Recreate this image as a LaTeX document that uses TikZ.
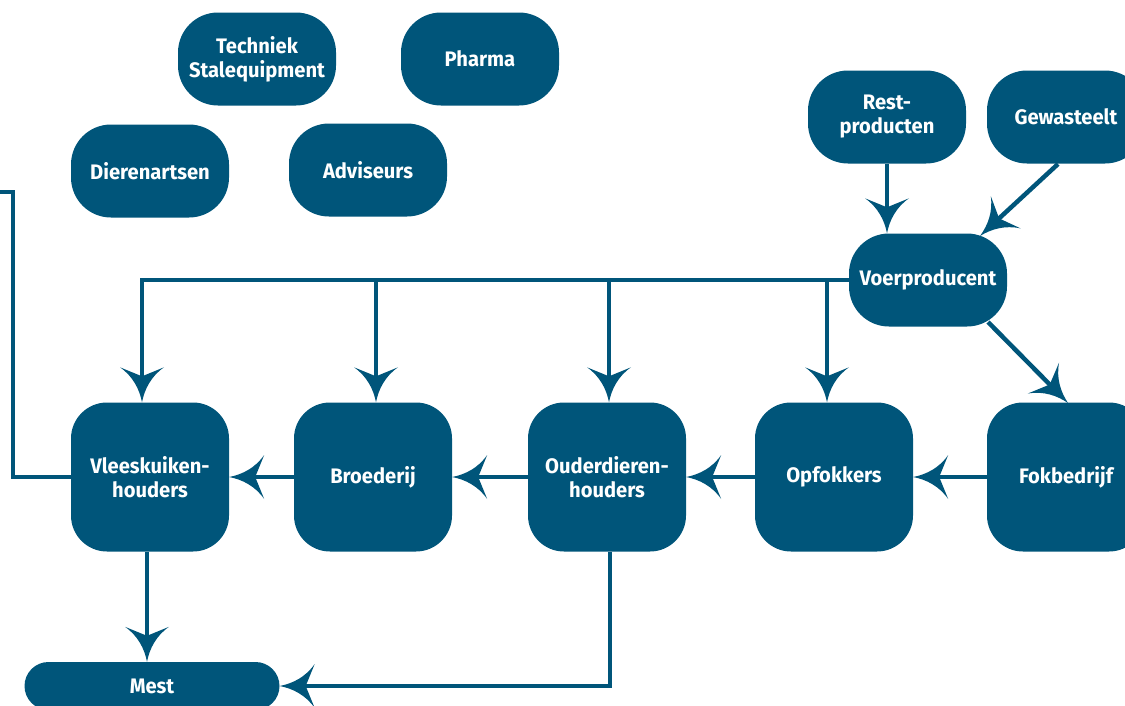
\documentclass[tikz,border=0pt]{standalone}
\usepackage{fontspec}
\setmainfont{Fira Sans}[FakeStretch=0.96]
\usetikzlibrary{arrows.meta,calc}
\definecolor{petrol}{RGB}{0,85,122}
\pgfdeclarearrow{
  name = Flare,
  setup code = {
    \pgfarrowssettipend{0pt}
    \pgfarrowssetlineend{-24pt}
    \pgfarrowssetvisualbackend{-28pt}
    \pgfarrowssetbackend{-35pt}
    \pgfarrowshullpoint{0pt}{0pt}
    \pgfarrowshullpoint{-35pt}{22pt}
    \pgfarrowshullpoint{-35pt}{-22pt}
  },
  drawing code = {
    \pgfpathmoveto{\pgfqpoint{0pt}{0pt}}
    \pgfpathcurveto{\pgfqpoint{-13pt}{2.5pt}}{\pgfqpoint{-26pt}{9pt}}{\pgfqpoint{-35pt}{22pt}}
    \pgfpathlineto{\pgfqpoint{-26pt}{0pt}}
    \pgfpathlineto{\pgfqpoint{-35pt}{-22pt}}
    \pgfpathcurveto{\pgfqpoint{-26pt}{-9pt}}{\pgfqpoint{-13pt}{-2.5pt}}{\pgfqpoint{0pt}{0pt}}
    \pgfpathclose
    \pgfusepathqfill
  },
}
\tikzset{
  box/.style={fill=petrol, text=white, font=\bfseries\fontsize{21}{24}\selectfont,
    align=center, minimum width=158pt, minimum height=93pt, rounded corners=40pt, inner sep=0pt},
  bigbox/.style={box, minimum height=149pt, rounded corners=36pt},
  pill/.style={box, minimum width=255pt, minimum height=48pt, rounded corners=24pt},
  conn/.style={draw=petrol, line width=4.5pt},
  arr/.style={conn, -{Flare}},
}
\begin{document}
\begin{tikzpicture}[x=1pt,y=-1pt]
\useasboundingbox (0,0) rectangle (1125,705);
\clip (0,0) rectangle (1125,705);
% small boxes
\node[box] (tech) at (257,59) {Techniek\\Stalequipment};
\node[box] (pharma) at (480,59) {Pharma};
\node[box] (dier) at (150,171) {Dierenartsen};
\node[box] (adv) at (368,170) {Adviseurs};
\node[box] (rest) at (887,117) {Rest-\\producten};
\node[box] (gew) at (1066,117) {Gewasteelt};
\node[box] (voer) at (928,280) {Voerproducent};
% main row
\node[bigbox] (vlees) at (150,477) {Vleeskuiken-\\houders};
\node[bigbox] (broed) at (373,477) {Broederij};
\node[bigbox] (oud) at (607,477) {Ouderdieren-\\houders};
\node[bigbox] (opf) at (834,477) {Opfokkers};
\node[bigbox] (fok) at (1066,477) {Fokbedrijf};
\node[pill] (mest) at (152,686) {Mest};
% inputs to Voerproducent
\draw[arr] (rest.south) -- (rest.south |- voer.north);
\draw[arr] ($(gew.center)+(-8,47)$) -- ($(voer.center)+(52,-44)$);
\draw[arr] ($(voer.center)+(60,42)$) -- ($(fok.center)+(2,-74)$);
% feed distribution
\draw[arr] (voer.west) -| ([xshift=-8pt]vlees.north);
\coordinate (j1) at (376,280);
\coordinate (j2) at (609,280);
\coordinate (j3) at (827,280);
\draw[arr] (j1) -- (j1 |- broed.north);
\draw[arr] (j2) -- (j2 |- oud.north);
\draw[arr] (j3) -- (j3 |- opf.north);
% chain
\draw[arr] (fok.west) -- (opf.east);
\draw[arr] (opf.west) -- (oud.east);
\draw[arr] (oud.west) -- (broed.east);
\draw[arr] (broed.west) -- (vlees.east);
% manure
\coordinate (vm) at ($(vlees.south)+(-3,0)$);
\draw[arr] (vm) -- (vm |- mest.north);
\draw[arr] ($(oud.south)+(3,0)$) |- (mest.east);
% line leaving the picture
\coordinate (offl) at (-5,192);
\draw[conn] (vlees.west) -| ($(offl)+(18,0)$) -- (offl);
\end{tikzpicture}
\end{document}
